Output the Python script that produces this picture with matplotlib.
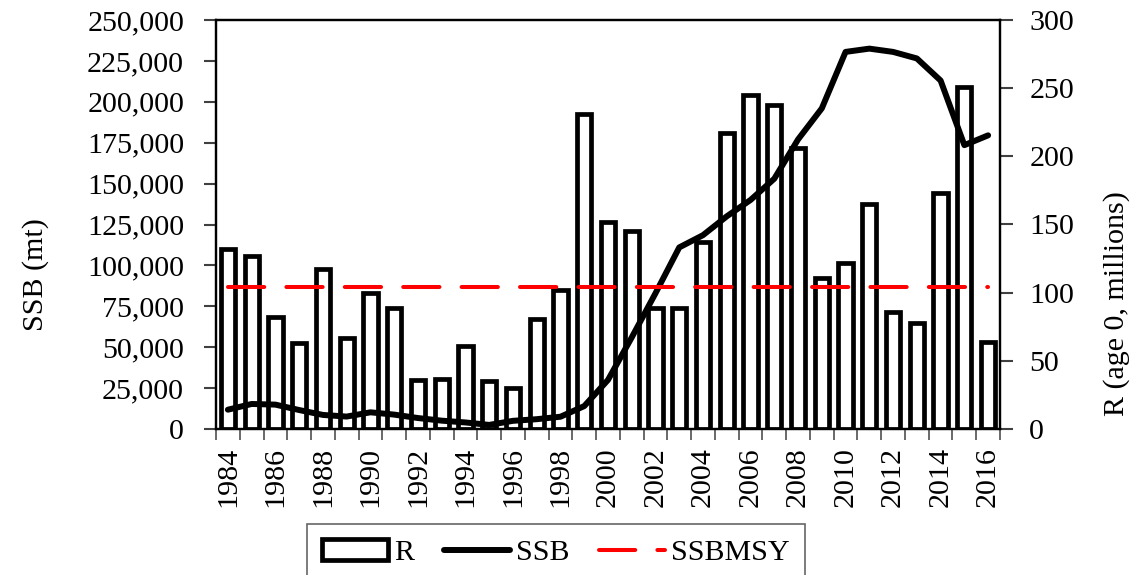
import matplotlib.pyplot as plt
import numpy as np
from matplotlib.ticker import FuncFormatter

years = list(range(1984, 2017))
# recruitment, age 0 (millions) - right axis
recruits = [132, 127, 82, 63, 117, 67, 100, 89, 36, 37, 61, 35, 30,
            81, 102, 231, 152, 145, 89, 89, 137, 217, 245, 238, 206, 111,
            122, 165, 86, 78, 173, 251, 64]
# spawning stock biomass (mt) - left axis
ssb = [11800, 15300, 14900, 11600, 8600, 7600, 10200, 8800, 6700, 5100,
       4000, 2500, 5000, 6000, 7500, 14000, 30000, 56000, 83000, 111000,
       118500, 130000, 140000, 153000, 177000, 196000, 230500, 232500,
       230500, 226500, 213000, 173500, 179500]
ssb_msy = 87000

plt.rcParams['font.family'] = ['Liberation Serif', 'DejaVu Serif']
plt.rcParams['font.size'] = 21.6

fig = plt.figure(figsize=(11.31, 5.75), dpi=100)
ax = fig.add_axes([216 / 1131, 1 - 429 / 575, 784 / 1131, 409 / 575])
ax2 = ax.twinx()

x = np.arange(len(years))

# bars on the right axis, lines on the left axis drawn above them
bars = ax2.bar(x, recruits, width=0.6, color='white', edgecolor='black',
               linewidth=3.4, label='R')
line_ssb, = ax.plot(x, ssb, color='black', lw=4.3, solid_capstyle='round',
                    solid_joinstyle='round', label='SSB')
line_msy, = ax.plot(x, [ssb_msy] * len(x), color='red', lw=2.9,
                    dashes=(9, 5.5), dash_capstyle='round', label='SSBMSY')
ax.set_zorder(ax2.get_zorder() + 1)
ax.patch.set_visible(False)

ax.set_xlim(-0.5, len(years) - 0.5)
ax.set_ylim(0, 250000)
ax2.set_ylim(0, 300)

ax.set_yticks(range(0, 250001, 25000))
ax.yaxis.set_major_formatter(FuncFormatter(lambda v, p: f'{v:,.0f}'))
ax2.set_yticks(range(0, 301, 50))

ax.set_xticks(x[::2])
ax.set_xticklabels([str(y) for y in years[::2]], rotation=90)
ax.set_xticks(np.arange(-0.5, len(years), 1), minor=True)
ax.tick_params(axis='x', which='major', length=0, pad=13)
ax.tick_params(axis='x', which='minor', length=8, width=1.2, color='#505050')
ax.tick_params(axis='y', length=9, width=1.5, color='#404040', pad=14)
ax2.tick_params(axis='y', length=9, width=1.5, color='#404040', pad=12)

for a in (ax, ax2):
    for s in a.spines.values():
        s.set_linewidth(1.6)
        s.set_color('black')

ax.set_ylabel('SSB (mt)', va='center', ha='center')
ax.yaxis.set_label_coords(-0.2296, 0.377)
ax2.set_ylabel('R (age 0, millions)', va='center', ha='center')
ax2.yaxis.set_label_coords(1.148, 0.306)

leg = fig.legend([bars, line_ssb, line_msy], ['R', 'SSB', 'SSBMSY'],
                 loc='upper center', bbox_to_anchor=(556 / 1131, 1 - 524 / 575),
                 ncol=3, frameon=True, fancybox=False, edgecolor='#404040',
                 handlelength=2.2, handletextpad=0.2, columnspacing=1.0,
                 borderpad=0.5, borderaxespad=0)
leg.get_frame().set_linewidth(1.2)

fig.savefig('out.png', dpi=100)
